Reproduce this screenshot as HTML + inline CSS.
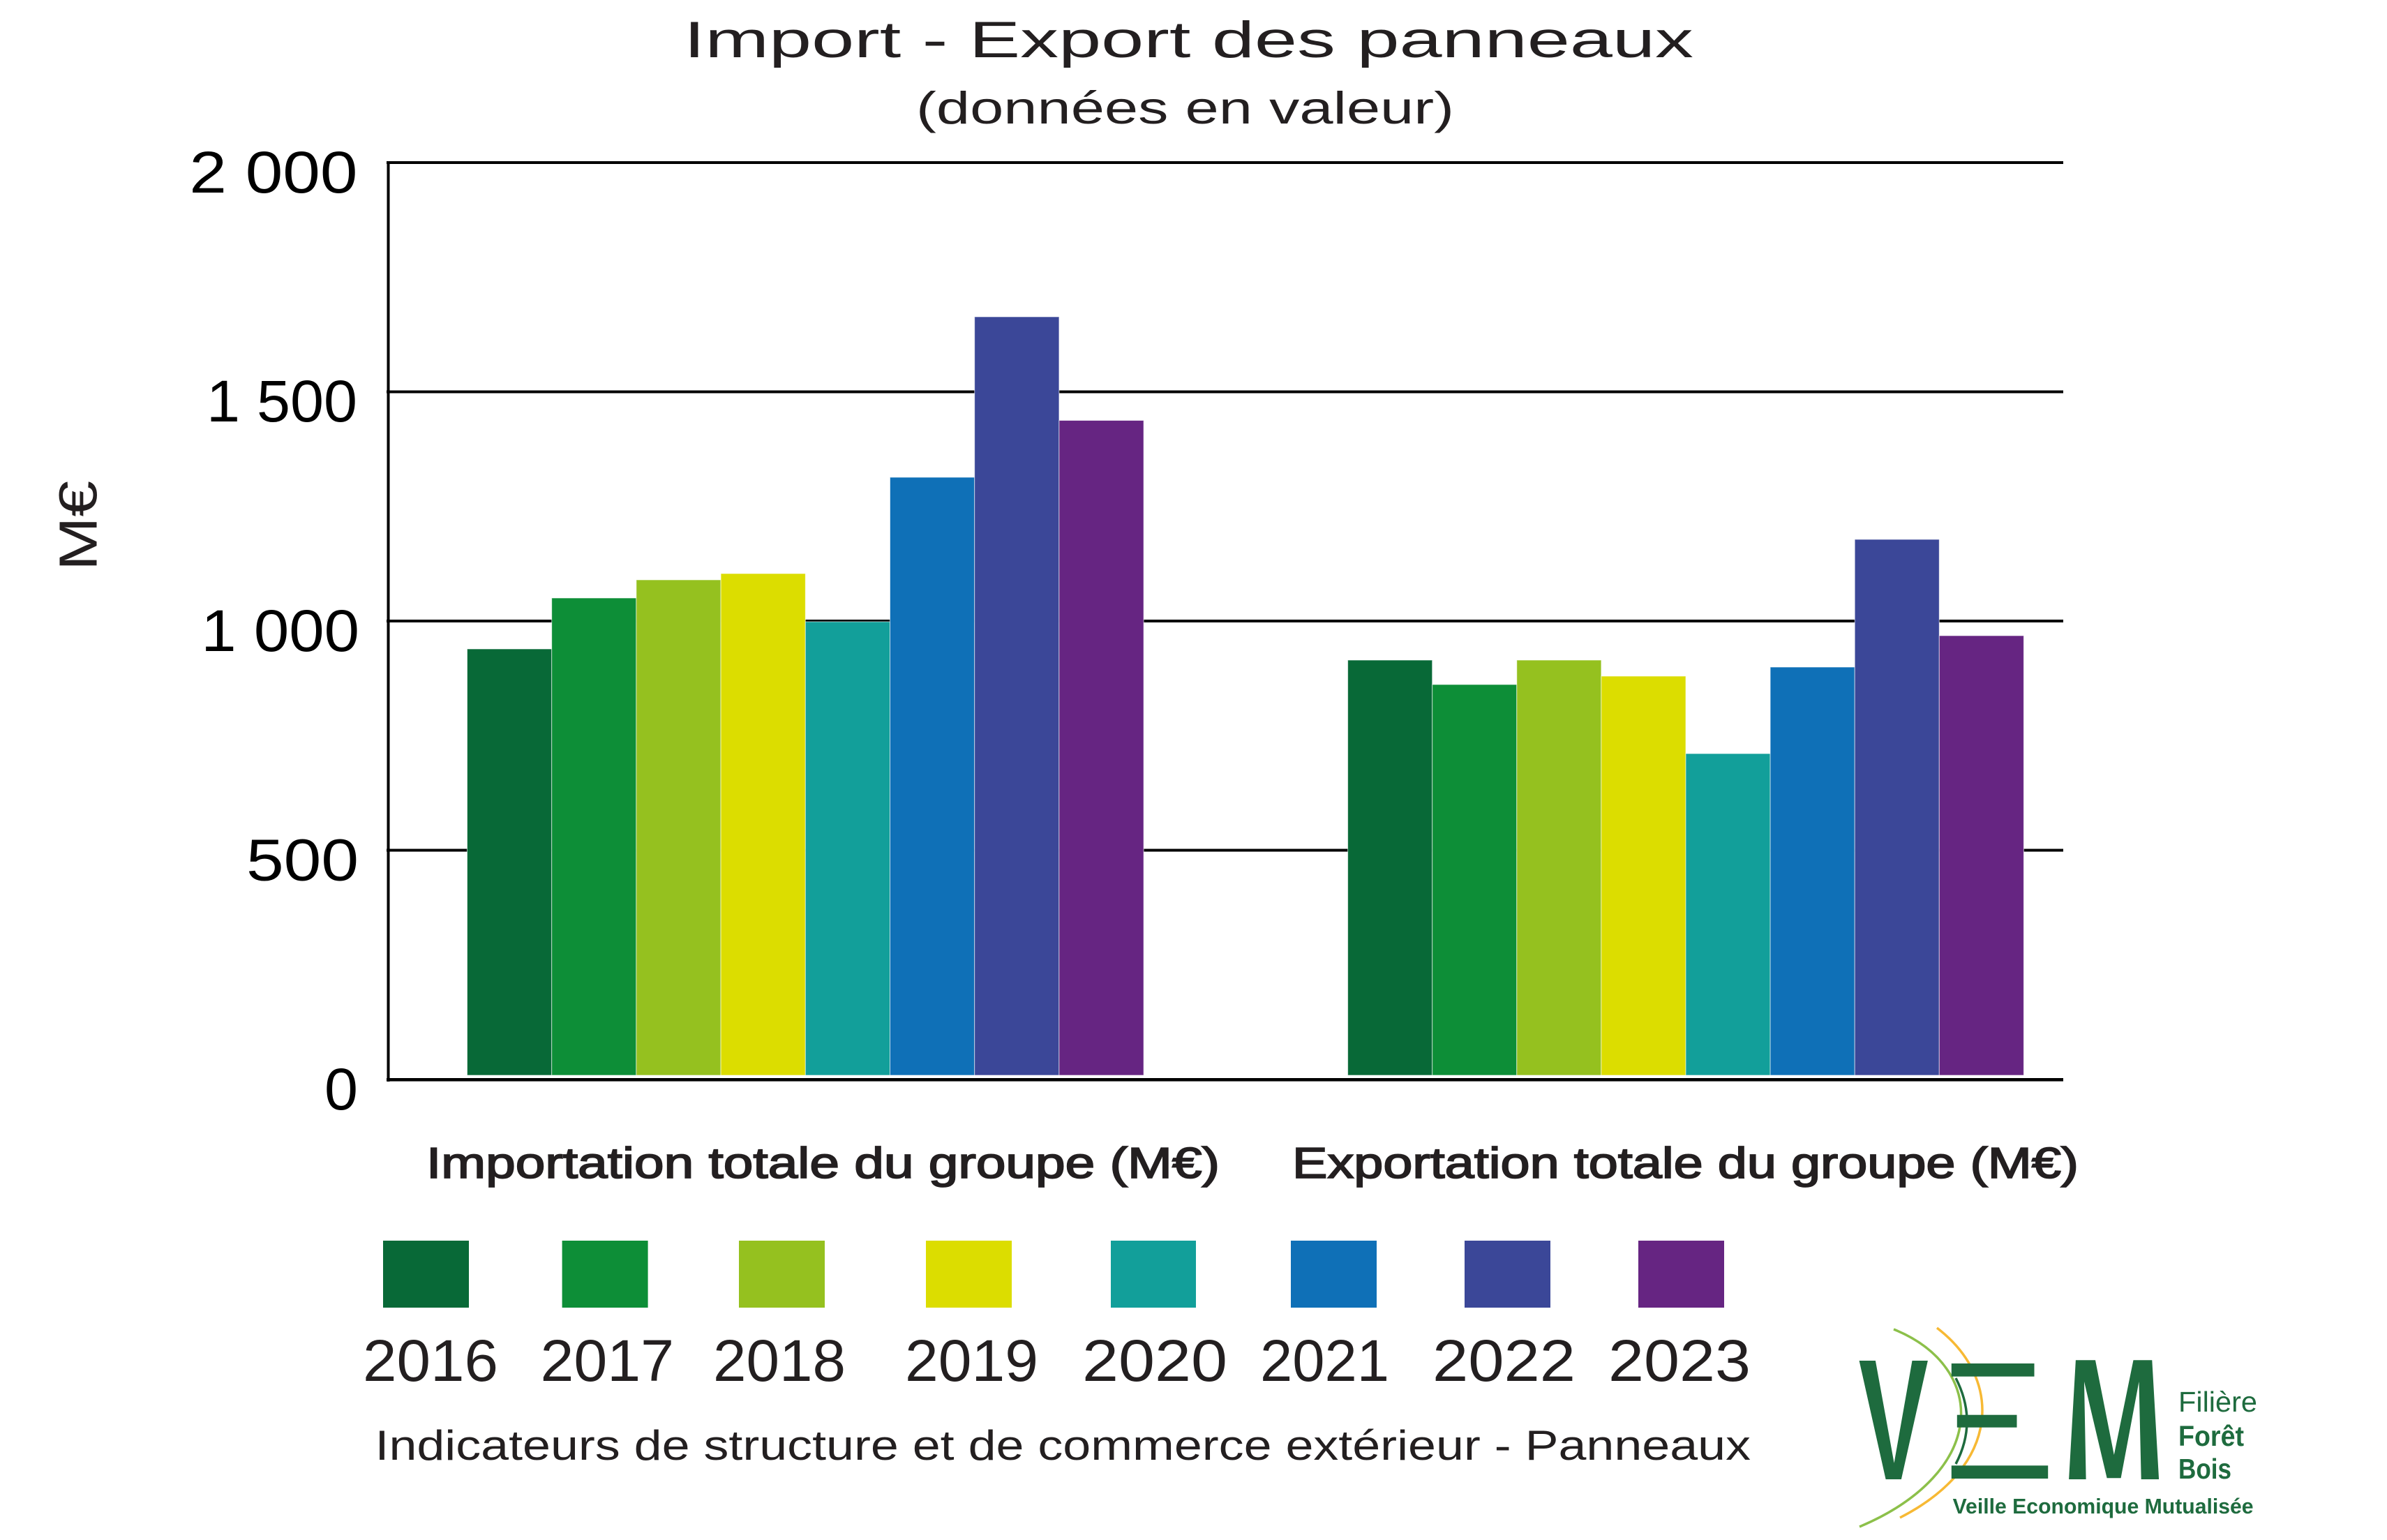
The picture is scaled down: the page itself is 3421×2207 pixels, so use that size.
<!DOCTYPE html>
<html>
<head>
<meta charset="utf-8">
<style>
  html, body { margin: 0; padding: 0; background: #ffffff; }
  svg { display: block; }
  text { font-family: "Liberation Sans", "DejaVu Sans", sans-serif; }
</style>
</head>
<body>
<svg xmlns="http://www.w3.org/2000/svg" width="3421" height="2207" viewBox="0 0 3421 2207">
  <rect x="0" y="0" width="3421" height="2207" fill="#ffffff"/>

  <!-- Title -->
  <text x="980" y="82" font-size="73" fill="#231f20" textLength="1447" lengthAdjust="spacingAndGlyphs">Import - Export des panneaux</text>
  <text x="1313" y="177" font-size="65" fill="#231f20" textLength="771" lengthAdjust="spacingAndGlyphs">(données en valeur)</text>

  <!-- Gridlines -->
  <g stroke="#000" stroke-width="4">
    <line x1="554" y1="233" x2="2957" y2="233"/>
    <line x1="554" y1="561.5" x2="2957" y2="561.5"/>
    <line x1="554" y1="890" x2="2957" y2="890"/>
    <line x1="554" y1="1218.5" x2="2957" y2="1218.5"/>
  </g>

  <!-- Bars: Import -->
  <g stroke="#ffffff" stroke-width="1" stroke-opacity="0.6">
    <rect x="669.5" y="930" width="121.2" height="611" fill="#086937"/>
    <rect x="790.7" y="857" width="121.2" height="684" fill="#0d8e37"/>
    <rect x="911.9" y="831" width="121.2" height="710" fill="#95c11f"/>
    <rect x="1033.1" y="822" width="121.2" height="719" fill="#dcdd00"/>
    <rect x="1154.3" y="891" width="121.2" height="650" fill="#129f9a"/>
    <rect x="1275.5" y="684" width="121.2" height="857" fill="#0f70b7"/>
    <rect x="1396.7" y="454" width="121.2" height="1087" fill="#3b4798"/>
    <rect x="1517.9" y="602.5" width="121.2" height="938.5" fill="#662582"/>
  </g>

  <!-- Bars: Export -->
  <g stroke="#ffffff" stroke-width="1" stroke-opacity="0.6">
    <rect x="1931.6" y="946" width="121.1" height="595" fill="#086937"/>
    <rect x="2052.7" y="981" width="121.1" height="560" fill="#0d8e37"/>
    <rect x="2173.8" y="946" width="121.1" height="595" fill="#95c11f"/>
    <rect x="2294.9" y="969" width="121.1" height="572" fill="#dcdd00"/>
    <rect x="2416.0" y="1080" width="121.1" height="461" fill="#129f9a"/>
    <rect x="2537.1" y="956" width="121.1" height="585" fill="#0f70b7"/>
    <rect x="2658.2" y="773" width="121.1" height="768" fill="#3b4798"/>
    <rect x="2779.3" y="911" width="121.1" height="630" fill="#662582"/>
  </g>

  <!-- Axes -->
  <line x1="556.5" y1="231" x2="556.5" y2="1550" stroke="#000" stroke-width="4"/>
  <line x1="554" y1="1547.3" x2="2957" y2="1547.3" stroke="#000" stroke-width="4.6"/>

  <!-- Y tick labels -->
  <g font-size="84" fill="#000">
    <text x="271.4" y="276" textLength="241" lengthAdjust="spacingAndGlyphs">2 000</text>
    <text x="296" y="604" textLength="216" lengthAdjust="spacingAndGlyphs">1 500</text>
    <text x="288.3" y="933" textLength="226.7" lengthAdjust="spacingAndGlyphs">1 000</text>
    <text x="353" y="1261.5" textLength="161" lengthAdjust="spacingAndGlyphs">500</text>
    <text x="465" y="1590" textLength="48" lengthAdjust="spacingAndGlyphs">0</text>
  </g>

  <!-- Y axis title -->
  <text transform="translate(138.3,753.5) rotate(-90)" x="-64.5" y="0" font-size="77" fill="#231f20" textLength="129" lengthAdjust="spacingAndGlyphs">M€</text>

  <!-- Category labels -->
  <g font-size="62" fill="#231f20" stroke="#231f20" stroke-width="1.8">
    <text x="611" y="1688" textLength="1137" lengthAdjust="spacingAndGlyphs">Importation totale du groupe (M€)</text>
    <text x="1852" y="1688" textLength="1127" lengthAdjust="spacingAndGlyphs">Exportation totale du groupe (M€)</text>
  </g>

  <!-- Legend boxes -->
  <rect x="549" y="1778" width="123" height="96" fill="#086937"/>
  <rect x="805.6" y="1778" width="123" height="96" fill="#0d8e37"/>
  <rect x="1059" y="1778" width="123" height="96" fill="#95c11f"/>
  <rect x="1327" y="1778" width="123" height="96" fill="#dcdd00"/>
  <rect x="1592" y="1778" width="122" height="96" fill="#129f9a"/>
  <rect x="1850" y="1778" width="123" height="96" fill="#0f70b7"/>
  <rect x="2099" y="1778" width="123" height="96" fill="#3b4798"/>
  <rect x="2348" y="1778" width="123" height="96" fill="#662582"/>

  <!-- Legend years -->
  <g font-size="84" fill="#231f20">
    <text x="520" y="1979" textLength="194" lengthAdjust="spacingAndGlyphs">2016</text>
    <text x="774.5" y="1979" textLength="191.5" lengthAdjust="spacingAndGlyphs">2017</text>
    <text x="1022" y="1979" textLength="190" lengthAdjust="spacingAndGlyphs">2018</text>
    <text x="1297" y="1979" textLength="191" lengthAdjust="spacingAndGlyphs">2019</text>
    <text x="1551" y="1979" textLength="208" lengthAdjust="spacingAndGlyphs">2020</text>
    <text x="1806" y="1979" textLength="185" lengthAdjust="spacingAndGlyphs">2021</text>
    <text x="2053" y="1979" textLength="205" lengthAdjust="spacingAndGlyphs">2022</text>
    <text x="2305" y="1979" textLength="204" lengthAdjust="spacingAndGlyphs">2023</text>
  </g>

  <!-- Footer -->
  <text x="537.5" y="2092" font-size="60" fill="#231f20" textLength="1971.5" lengthAdjust="spacingAndGlyphs">Indicateurs de structure et de commerce extérieur - Panneaux</text>

  <!-- Logo -->
  <g>
    <path d="M2714,1905 C2850,1960 2850,2110 2665,2188" fill="none" stroke="#8cc04a" stroke-width="3.5"/>
    <path d="M2776,1903 C2870,1975 2870,2100 2723,2175" fill="none" stroke="#f7b934" stroke-width="3.5"/>
    <path d="M2803,1975 Q2835,2037 2803,2098" fill="none" stroke="#1e6b3e" stroke-width="3.5"/>
    <polygon fill="#1e6b3e" points="2664.6,1950 2687.9,1950 2714.6,2096.7 2740.5,1950 2762.9,1950 2724.9,2120 2702.6,2120"/>
    <rect x="2796.8" y="1954" width="118.7" height="18.7" fill="#1e6b3e"/>
    <rect x="2804.8" y="2027.7" width="85.7" height="18" fill="#1e6b3e"/>
    <rect x="2796.8" y="2100.3" width="138.4" height="18.7" fill="#1e6b3e"/>
    <polygon fill="#1e6b3e" points="2965.1,2120 2974.9,1949.3 3003.0,1949.3 3029.8,2085 3057.5,1949.3 3084.3,1949.3 3094.1,2120 3068.7,2120 3065.5,1980 3039.6,2118.3 3019.6,2118.3 2987.0,1980 2989.6,2120"/>
    <text x="3122" y="2023" font-size="41" fill="#1e6b3e" textLength="113" lengthAdjust="spacingAndGlyphs">Filière</text>
    <text x="3122" y="2072" font-size="41" font-weight="bold" fill="#1e6b3e" textLength="94" lengthAdjust="spacingAndGlyphs">Forêt</text>
    <text x="3122" y="2119" font-size="41" font-weight="bold" fill="#1e6b3e" textLength="76" lengthAdjust="spacingAndGlyphs">Bois</text>
    <text x="2798.6" y="2169" font-size="31" font-weight="bold" fill="#1e6b3e" textLength="431" lengthAdjust="spacingAndGlyphs">Veille Economique Mutualisée</text>
  </g>
</svg>
</body>
</html>
